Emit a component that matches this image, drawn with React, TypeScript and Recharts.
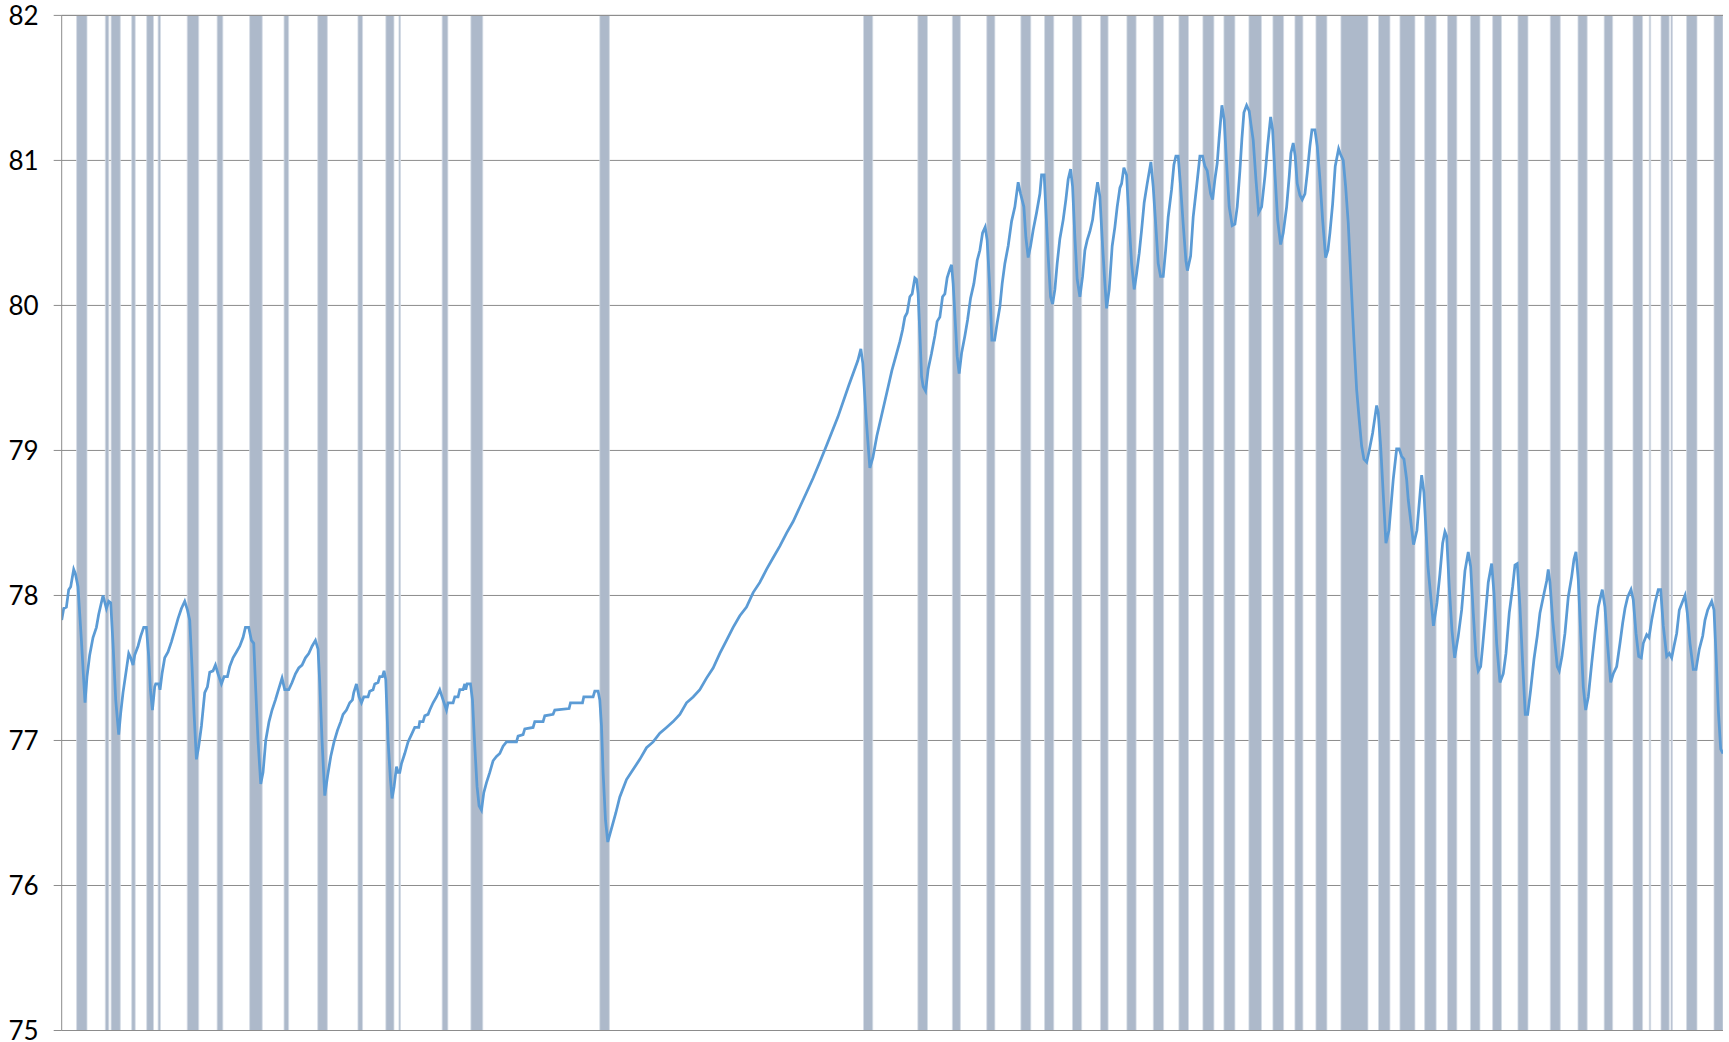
import React from 'react';
import { ComposedChart, Line, XAxis, YAxis, CartesianGrid, ReferenceArea, ReferenceLine } from 'recharts';

// y axis ticks
const yTicks = [75, 76, 77, 78, 79, 80, 81, 82];

// shaded periods [start, end] on the day axis
const wetPeriods: [number, number][] = [
  [14.9, 25.3], [43.6, 47.1], [49.4, 58.6], [70, 73.5], [85, 91.8], [96.4, 98.7],
  [125.5, 137], [155.4, 161.1], [187.9, 200.5], [222.3, 226.9], [256, 265.6],
  [296.2, 300.8], [324.1, 332.2], [337.2, 338.7], [380.4, 386.1], [409.1, 421],
  [538, 547.6], [801.7, 810.9], [856, 865.6], [890.5, 898.5], [924.9, 933],
  [959, 968.9], [982.7, 991.9], [1010.6, 1019.8], [1038.6, 1046.2], [1065, 1074.2],
  [1091.4, 1101.7], [1117, 1126.6], [1141, 1152], [1162, 1173], [1187, 1199.5],
  [1211, 1221.7], [1233, 1241], [1254, 1265], [1279, 1306], [1316.6, 1328],
  [1338, 1353], [1362.7, 1374.2], [1385.6, 1394.9], [1408.5, 1418], [1430.7, 1439.5],
  [1456, 1466], [1488.3, 1498.3], [1516, 1525.2], [1542.2, 1550.7], [1571, 1580.6],
  [1587.3, 1588.7], [1599, 1607.2], [1609, 1610.5], [1624.6, 1635], [1652, 1661],
];

// level series, [day, level]
const levelPart1: [number, number][] = [
  [0, 77.83], [2, 77.91], [4.7, 77.92], [7, 78.04], [9, 78.06], [12, 78.18], [13.7, 78.15], [16.3, 78.06],
  [19.7, 77.69], [23.3, 77.26], [25.3, 77.44], [28, 77.59], [31.3, 77.71], [34.7, 77.78], [37, 77.87],
  [41.3, 78.0], [44.7, 77.91], [47, 77.96], [49, 77.95], [51.3, 77.67], [54, 77.28], [57, 77.04],
  [59, 77.19], [61.3, 77.33], [64.7, 77.49], [67, 77.6], [69, 77.57], [71.3, 77.52], [73, 77.59],
  [76.3, 77.65], [79, 77.72], [82, 77.78], [84.7, 77.78], [87, 77.58], [88.7, 77.35], [90.7, 77.21],
  [93, 77.37], [94, 77.39], [97, 77.39], [98.3, 77.35], [100.3, 77.46], [103, 77.57], [106.3, 77.61],
  [109.7, 77.68], [113, 77.76], [116.3, 77.84], [119.7, 77.91], [123, 77.96], [125.7, 77.9], [128, 77.83],
  [130.3, 77.51], [132.3, 77.19], [134.7, 76.87], [137, 76.96], [139.7, 77.1], [143, 77.33], [145.7, 77.37],
  [148, 77.47], [151.3, 77.48], [153.7, 77.52], [156.3, 77.46], [159.7, 77.39], [162.3, 77.44], [165.7, 77.44],
  [168, 77.51], [171.3, 77.57], [174.7, 77.61], [178, 77.65], [181.3, 77.71], [183.7, 77.78], [187, 77.78],
  [189.7, 77.69], [192, 77.67], [194, 77.35], [196.3, 77.0], [199, 76.7], [201.3, 76.78], [204, 77.0],
  [207.3, 77.13], [210.3, 77.21], [213.7, 77.28], [216.3, 77.34], [220.3, 77.43], [223, 77.35], [227, 77.35],
  [230.3, 77.4], [233.7, 77.46], [237, 77.5], [240.3, 77.52], [243.7, 77.57], [247, 77.6], [250.3, 77.65],
  [253.7, 77.69], [256.3, 77.63], [258, 77.4], [260.3, 77.0], [263, 76.62], [265.7, 76.75], [269, 76.89],
  [272.3, 76.99], [275.7, 77.07], [279, 77.13],
];

const levelPart2: [number, number][] = [
  [281.3, 77.18], [284.7, 77.21], [288, 77.26], [290.7, 77.28], [292, 77.33], [294.7, 77.39], [297.3, 77.3],
  [299.7, 77.26], [302, 77.3], [306.3, 77.3], [308, 77.34], [311.3, 77.35], [313, 77.39], [316.3, 77.4],
  [318, 77.44], [320.7, 77.44], [322.3, 77.48], [324, 77.42], [326.3, 77.0], [328.7, 76.73], [330.3, 76.6],
  [332.3, 76.68], [334.7, 76.82], [336.3, 76.78], [338, 76.78], [339.7, 76.84], [343, 76.91], [346.3, 76.99],
  [349.7, 77.04], [353, 77.09], [357, 77.09], [358, 77.13], [361.3, 77.13], [363, 77.17], [366.3, 77.18],
  [368, 77.21], [371.3, 77.26], [374.7, 77.3], [378, 77.35], [381.3, 77.28], [384.7, 77.21], [386.3, 77.26],
  [391.3, 77.26], [393, 77.3], [396.3, 77.3], [398, 77.35], [401.3, 77.35], [403, 77.39], [404, 77.35],
  [405.3, 77.39], [408.7, 77.39], [410.7, 77.28], [413, 76.96], [415.3, 76.68], [417.3, 76.55], [419.7, 76.52],
  [422, 76.64], [424.7, 76.71], [428, 76.78], [431.3, 76.86], [434.7, 76.89], [438, 76.91], [441.3, 76.96],
  [444.7, 76.99], [454.7, 76.99], [456.3, 77.03], [461.3, 77.04], [463, 77.08], [471.3, 77.09], [473, 77.13],
  [481.3, 77.13], [483, 77.17], [491.3, 77.18], [493, 77.21], [507.3, 77.22], [508.7, 77.26], [520.7, 77.26],
  [522, 77.3], [531.3, 77.3], [533, 77.34], [536.3, 77.34], [538, 77.28], [539.7, 77.1], [541.3, 76.78],
  [543.7, 76.45],
];

const levelPart3: [number, number][] = [
  [546, 76.3], [549.6, 76.39], [554, 76.5], [558, 76.61], [564.7, 76.73], [571.3, 76.8], [578, 76.87],
  [584.7, 76.95], [591.3, 76.99], [598, 77.05], [604.7, 77.09], [611.3, 77.13], [618, 77.18], [624.7, 77.26],
  [631.3, 77.3], [638, 77.35], [644.7, 77.43], [651.3, 77.5], [658, 77.6], [664.7, 77.69], [671.3, 77.78],
  [678, 77.86], [684.7, 77.92], [691.3, 78.02], [698, 78.09], [704.7, 78.18], [711.3, 78.26], [718, 78.34],
  [724.7, 78.43], [731.3, 78.51], [738, 78.61], [744.7, 78.71], [751.3, 78.81], [758, 78.92],
  [765, 79.04], [776, 79.23], [787, 79.45], [796, 79.62], [799, 79.7], [801, 79.6], [804, 79.25],
  [808, 78.88], [811, 78.95], [815, 79.1], [820, 79.25], [825, 79.4], [830, 79.55], [834, 79.65],
];

const levelPart4: [number, number][] = [
  [838, 79.75], [840.7, 79.83], [843, 79.92], [845.3, 79.95], [848, 80.06], [850.3, 80.08], [853, 80.19],
  [854.7, 80.18], [856.3, 80.08], [858, 79.81], [859.7, 79.51], [861.3, 79.44], [863.7, 79.41], [866.3, 79.56],
  [869.7, 79.67], [873, 79.79], [875.3, 79.89], [878, 79.92], [880.7, 80.06], [883, 80.08], [885.3, 80.19],
  [888, 80.25], [889.7, 80.28], [891.3, 80.15], [893.7, 79.85], [895.3, 79.65], [897.3, 79.53], [899.7, 79.67],
  [903, 79.79], [905.7, 79.9], [908.7, 80.05], [912, 80.15], [915.3, 80.31], [918, 80.38], [920.7, 80.5],
  [923.3, 80.54], [925.3, 80.45], [928, 80.11], [930, 79.76], [932.7, 79.76], [935.3, 79.88], [938, 79.99],
  [940.3, 80.15], [943, 80.29], [946.3, 80.41], [949.7, 80.58], [953, 80.68], [956.3, 80.85], [958.7, 80.77],
  [962, 80.68], [964, 80.47], [966.3, 80.33], [968.7, 80.41], [971.3, 80.52], [974.7, 80.64], [978, 80.77],
  [979.7, 80.9], [982.3, 80.9], [984, 80.66], [986.3, 80.34], [988.7, 80.06], [990.7, 80.01], [993, 80.11],
  [995.3, 80.29], [998, 80.46], [1001.3, 80.59], [1004, 80.73], [1006.3, 80.87], [1008.7, 80.94], [1010.7, 80.82],
  [1013, 80.47], [1015.3, 80.18], [1018, 80.06], [1020.7, 80.2], [1023, 80.38], [1025.3, 80.45], [1028, 80.51],
  [1030.7, 80.59], [1033, 80.72], [1035.7, 80.85], [1038, 80.75], [1040.7, 80.41], [1043, 80.15], [1044.7, 79.98],
  [1047.3, 80.11], [1050.3, 80.41], [1053, 80.54], [1055.3, 80.68], [1058, 80.81], [1059.7, 80.84], [1062, 80.95],
  [1064.7, 80.9], [1067.3, 80.57], [1069.7, 80.29], [1072.3, 80.11], [1074.7, 80.22], [1077.3, 80.36],
  [1079.7, 80.52], [1082.3, 80.71], [1085.3, 80.84], [1089, 80.99], [1091.3, 80.82], [1094, 80.54],
  [1096.3, 80.29], [1098.7, 80.2], [1101.3, 80.2], [1103.7, 80.38], [1106.3, 80.61], [1109.7, 80.8],
  [1112, 80.97], [1114, 81.03], [1116.3, 81.03], [1118.7, 80.82], [1121.3, 80.56], [1124, 80.31],
  [1125.5, 80.24], [1128.7, 80.34], [1131.3, 80.61], [1134.7, 80.82], [1138, 81.03],
];

const levelPart5: [number, number][] = [
  [1140.7, 81.03], [1143, 80.96], [1145.3, 80.93], [1148.7, 80.77], [1150.7, 80.73], [1153, 80.87],
  [1155.3, 80.98], [1157.3, 81.16], [1160, 81.38], [1162.3, 81.28], [1164.7, 80.98], [1167.3, 80.68],
  [1170.3, 80.55], [1173, 80.56], [1175.3, 80.68], [1178, 80.93], [1180, 81.15], [1182, 81.33], [1184.7, 81.38],
  [1187.3, 81.34], [1189, 81.25], [1191.3, 81.14], [1194, 80.87], [1196.7, 80.64], [1199.7, 80.68], [1203, 80.89],
  [1205.7, 81.1], [1208.7, 81.3], [1210.7, 81.21], [1213, 80.91], [1215.7, 80.59], [1218.7, 80.42], [1221.3, 80.5],
  [1224.7, 80.68], [1227.3, 80.89], [1229, 81.05], [1231.3, 81.12], [1233.3, 81.03], [1235.3, 80.84], [1238, 80.76],
  [1240.3, 80.73], [1243, 80.77], [1245.3, 80.91], [1248, 81.1], [1250, 81.21], [1253, 81.21], [1255.3, 81.1],
  [1258, 80.87], [1260.7, 80.59], [1263.7, 80.33], [1266, 80.38], [1268, 80.5], [1270.7, 80.7], [1273.3, 80.96],
  [1276.7, 81.08], [1278.7, 81.04], [1281.3, 81.0], [1283.7, 80.82], [1286.3, 80.57], [1289, 80.18], [1292, 79.76],
  [1294.7, 79.42], [1297.3, 79.21], [1299.7, 79.03], [1302, 78.94], [1304.7, 78.92], [1307.3, 79.0], [1310.7, 79.12],
  [1313, 79.23], [1314.7, 79.31], [1316.3, 79.26], [1318.7, 79.03], [1321.3, 78.7], [1324, 78.36], [1327, 78.45],
  [1331.3, 78.8], [1334.7, 79.01], [1337.3, 79.01], [1339.7, 78.96], [1342, 78.94], [1344.7, 78.8], [1346.3, 78.66],
  [1351.6, 78.35], [1355, 78.45], [1359.7, 78.83], [1362, 78.71], [1366, 78.2], [1371.5, 77.79], [1375, 77.95],
  [1378, 78.15],
];

const levelPart6: [number, number][] = [
  [1380.7, 78.36], [1383, 78.44], [1384.7, 78.41], [1387.3, 78.06], [1390, 77.76], [1392.7, 77.57], [1396.3, 77.72],
  [1399.7, 77.9], [1403, 78.17], [1406.3, 78.3], [1408.7, 78.2], [1411.3, 77.88], [1414, 77.58], [1416.3, 77.48],
  [1418.7, 77.51], [1420.7, 77.65], [1423, 77.83], [1426.3, 78.09], [1429.7, 78.22], [1432, 78.02], [1434.7, 77.67],
  [1438, 77.4], [1441.3, 77.46], [1444, 77.6], [1447.3, 77.88], [1450.7, 78.06], [1453, 78.21], [1455.3, 78.22],
  [1458, 77.92], [1460.7, 77.53], [1463.3, 77.18], [1465.7, 77.18], [1468.7, 77.35], [1472, 77.56], [1475.3, 77.72],
  [1478, 77.88], [1481.3, 77.99], [1484.7, 78.1], [1486.3, 78.18], [1488, 78.09], [1490.7, 77.83], [1493, 77.67],
  [1495.3, 77.51], [1497.3, 77.48], [1500, 77.58], [1503, 77.74], [1506.3, 77.99], [1509.7, 78.13], [1512, 78.25],
  [1514, 78.3], [1516.3, 78.11], [1518.7, 77.74], [1521.3, 77.37], [1523.7, 77.21], [1526.3, 77.3], [1529.7, 77.53],
  [1533, 77.74], [1536.3, 77.92], [1540.3, 78.04], [1543, 77.92], [1545.7, 77.65], [1548.7, 77.4], [1551.3, 77.46],
  [1554.7, 77.51], [1558, 77.67], [1560.7, 77.81], [1563, 77.91], [1565.7, 77.99], [1569, 78.04], [1571.3, 77.97],
  [1574, 77.74], [1576.7, 77.58], [1579.3, 77.57], [1581.3, 77.67], [1584.7, 77.73], [1587, 77.71], [1589.7, 77.83],
  [1593, 77.95], [1596.3, 78.04], [1598.7, 78.04], [1601.3, 77.79], [1604.7, 77.58], [1607.3, 77.6], [1609.7, 77.57],
  [1612, 77.65], [1614.7, 77.74], [1617.3, 77.9], [1620.7, 77.96], [1623, 78.0], [1625.3, 77.88], [1628, 77.67],
  [1631.3, 77.49], [1634, 77.49], [1637.3, 77.63], [1640.7, 77.72], [1643, 77.83], [1645.7, 77.9], [1649.7, 77.96],
  [1652, 77.9], [1654, 77.6], [1656.3, 77.21], [1658.7, 76.94], [1661, 76.91],
];

const dayDomain: [number, number] = [0, 1661];

const chartData = [...levelPart1, ...levelPart2, ...levelPart3, ...levelPart4, ...levelPart5, ...levelPart6].map(
  ([day, level]) => ({ day, level })
);

const GRID = '#8C8C8C';

export default function App() {
  return (
    <div style={{ position: 'absolute', left: 0, top: 0, width: 1729, height: 1042, background: '#fff' }}>
      <ComposedChart
        width={1729}
        height={1042}
        data={chartData}
        margin={{ top: 15.4, right: 6, bottom: 11.5, left: 0 }}
      >
        <CartesianGrid vertical={false} stroke={GRID} strokeWidth={1} />
        <XAxis dataKey="day" type="number" domain={dayDomain} hide allowDataOverflow />
        <YAxis
          type="number"
          domain={[75, 82]}
          ticks={yTicks}
          interval={0}
          width={61.7}
          tickSize={8}
          tickMargin={15}
          axisLine={{ stroke: GRID, strokeWidth: 1 }}
          tickLine={{ stroke: GRID, strokeWidth: 1 }}
          tick={{ fill: '#000', fontSize: 26, fontFamily: 'Lato' }}
          allowDataOverflow
        />
        {wetPeriods.map(([a, b], i) => (
          <ReferenceArea
            key={i}
            x1={a}
            x2={b}
            y1={75}
            y2={82}
            fill="#ADB9CA"
            fillOpacity={1}
            stroke="#D3DAE4"
            strokeWidth={0.8}
            ifOverflow="hidden"
          />
        ))}
        <ReferenceLine y={82} stroke={GRID} strokeWidth={1} />
        <ReferenceLine y={75} stroke={GRID} strokeWidth={1} />
        <Line
          dataKey="level"
          type="linear"
          stroke="#5B9BD5"
          strokeWidth={2.75}
          dot={false}
          activeDot={false}
          isAnimationActive={false}
        />
      </ComposedChart>
    </div>
  );
}
